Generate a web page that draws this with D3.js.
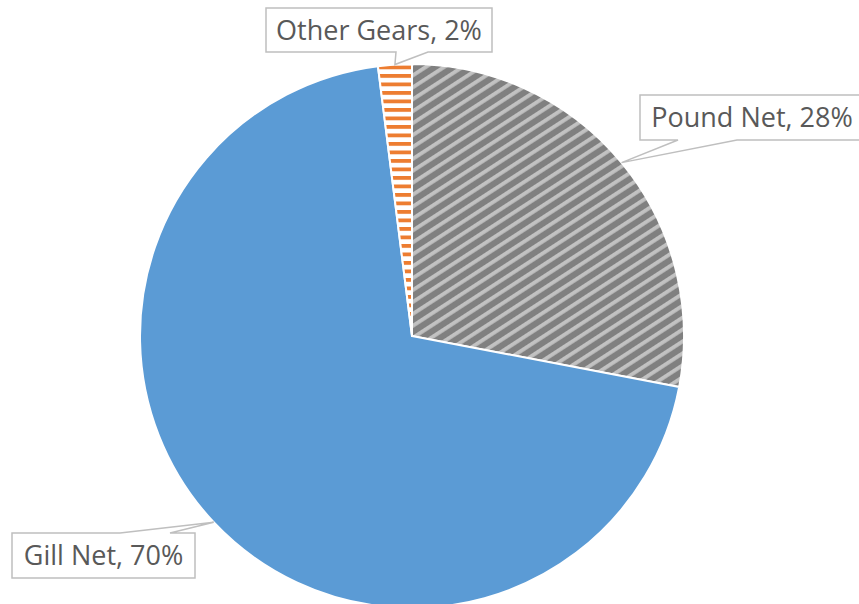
<!DOCTYPE html>
<html>
<head>
<meta charset="utf-8">
<script src="https://cdn.jsdelivr.net/npm/d3@7/dist/d3.min.js"></script>
<style>
  html, body { margin: 0; padding: 0; background: #ffffff; }
  svg { display: block; }
</style>
</head>
<body>
<svg id="chart" width="859" height="604"></svg>
<script>
// Share of catch by gear type (percent)
const categories = ["Pound Net", "Gill Net", "Other Gears"];
const shares = [28, 70, 2];

// Label box placement for each callout (layout only)
const calloutLayout = [
  { x0: 640, y0: 95,  x1: 866, y1: 140, side: "bottom", base: [678, 737], textX: 752 },
  { x0: 12,  y0: 533, x1: 195, y1: 578, side: "top",    base: [120, 170] },
  { x0: 266, y0: 8,   x1: 492, y1: 52,  side: "bottom", base: [396, 428] }
];

const width = 859, height = 604;
const cx = 412, cy = 336, radius = 272;

const svg = d3.select("#chart");
const defs = svg.append("defs");

// Grey diagonal stripes for Pound Net
const diag = defs.append("pattern")
  .attr("id", "pat-pound")
  .attr("patternUnits", "userSpaceOnUse")
  .attr("width", 10).attr("height", 10)
  .attr("patternTransform", "rotate(-33)");
diag.append("rect").attr("width", 10).attr("height", 10).attr("fill", "#808080");
diag.append("rect").attr("y", 0).attr("width", 10).attr("height", 3.8).attr("fill", "#c2c2c2");

// Orange horizontal bars for Other Gears
const horiz = defs.append("pattern")
  .attr("id", "pat-other")
  .attr("patternUnits", "userSpaceOnUse")
  .attr("x", 0).attr("y", 1.5)
  .attr("width", 8.5).attr("height", 8.5);
horiz.append("rect").attr("width", 8.5).attr("height", 8.5).attr("fill", "#ffffff");
horiz.append("rect").attr("width", 8.5).attr("height", 3.8).attr("fill", "#ed7d31");

const fills = d3.scaleOrdinal()
  .domain(categories)
  .range(["url(#pat-pound)", "#5b9bd5", "url(#pat-other)"]);

const pie = d3.pie().sort(null).value(d => d)
  .startAngle(0).endAngle(2 * Math.PI);
const arcs = pie(shares);

const arc = d3.arc().innerRadius(0).outerRadius(radius);
const edge = d3.arc().innerRadius(radius).outerRadius(radius);

const g = svg.append("g").attr("transform", `translate(${cx},${cy})`);
g.selectAll("path.slice")
  .data(arcs)
  .join("path")
  .attr("class", "slice")
  .attr("d", arc)
  .attr("fill", (d, i) => fills(categories[i]))
  .attr("stroke", "#ffffff")
  .attr("stroke-width", 2)
  .attr("stroke-linejoin", "round");

// Callout boxes with pointers to each slice
const labels = svg.append("g");
arcs.forEach((d, i) => {
  const L = calloutLayout[i];
  const [tx, ty] = edge.centroid(d);
  const tip = [tx + cx, ty + cy];
  let p;
  if (L.side === "bottom") {
    p = `M${L.x0},${L.y0}H${L.x1}V${L.y1}H${L.base[1]}L${tip[0]},${tip[1]}L${L.base[0]},${L.y1}H${L.x0}Z`;
  } else {
    p = `M${L.x0},${L.y0}H${L.base[0]}L${tip[0]},${tip[1]}L${L.base[1]},${L.y0}H${L.x1}V${L.y1}H${L.x0}Z`;
  }
  labels.append("path")
    .attr("d", p)
    .attr("fill", "#ffffff")
    .attr("stroke", "#bfbfbf")
    .attr("stroke-width", 1.5)
    .attr("stroke-linejoin", "miter");
  labels.append("text")
    .attr("x", L.textX !== undefined ? L.textX : (L.x0 + L.x1) / 2)
    .attr("y", (L.y0 + L.y1) / 2)
    .attr("dy", "0.36em")
    .attr("text-anchor", "middle")
    .attr("font-family", "'Segoe UI', 'Open Sans', sans-serif")
    .attr("font-size", 27)
    .attr("fill", "#595959")
    .text(`${categories[i]}, ${shares[i]}%`);
});
</script>
</body>
</html>
